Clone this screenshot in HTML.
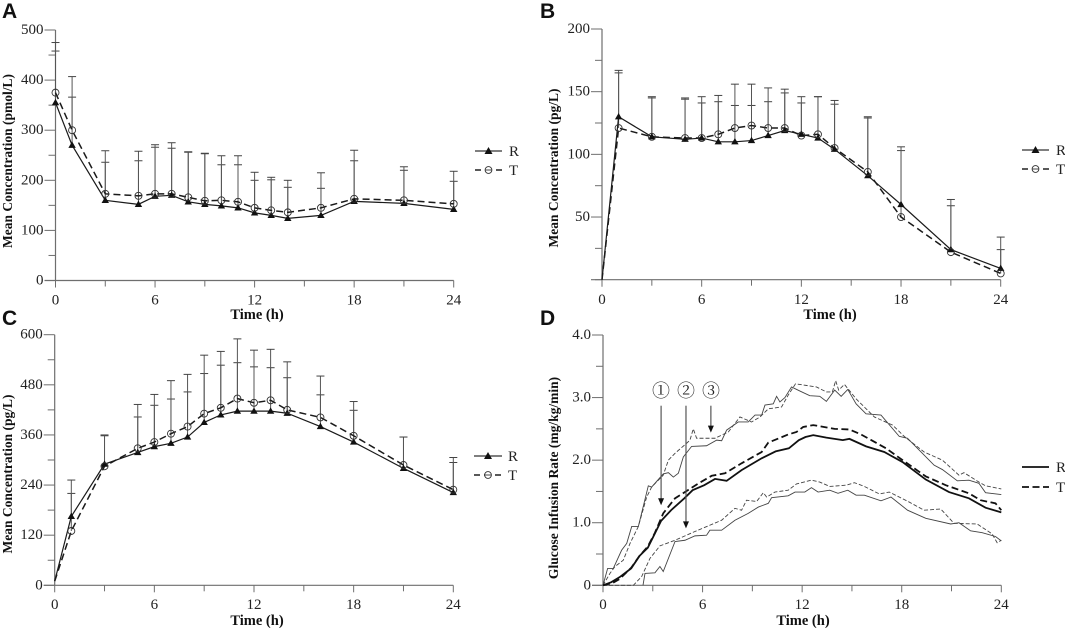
<!DOCTYPE html>
<html lang="en">
<head>
<meta charset="utf-8">
<title>Mean concentration and glucose infusion rate charts</title>
<style>
  html, body { margin: 0; padding: 0; background: #fff; }
  svg { display: block; }
  text { font-family: "Liberation Serif", serif; fill: #222; }
  .letter { font-family: "Liberation Sans", sans-serif; font-weight: 700; font-size: 21px; fill: #111; }
  .title { font-weight: 700; font-size: 14.5px; fill: #111; text-anchor: middle; }
  .y-title { font-weight: 700; font-size: 13.5px; fill: #111; text-anchor: middle; }
  .legend-label { font-size: 15px; }
  .circled { font-family: "Noto Serif CJK SC", "DejaVu Sans", serif; font-size: 18px; text-anchor: middle; }
</style>
</head>
<body>
<svg id="figure" xmlns="http://www.w3.org/2000/svg" width="1065" height="628" viewBox="0 0 1065 628">
  <rect width="1065" height="628" fill="#fff"/>

  <g id="panel-a">
    <text class="letter" x="2" y="18">A</text>
    <text class="y-title" transform="translate(12,161) rotate(-90)">Mean Concentration (pmol/L)</text>
    <text class="title" x="257" y="319">Time (h)</text>
    <g>
      <line x1="475" x2="502" y1="151" y2="151" stroke="#333" stroke-width="1.2"/>
      <polygon points="488.5,147 492.5,154 484.5,154" fill="#111"/>
      <text class="legend-label" x="509" y="156">R</text>
      <line x1="475" x2="502" y1="170" y2="170" stroke="#222" stroke-width="1.5" stroke-dasharray="6 4 7 4 6"/>
      <circle cx="488.5" cy="170" r="3.4" fill="#fff" stroke="#333" stroke-width="0.9"/>
      <line x1="485" x2="492" y1="170" y2="170" stroke="#333" stroke-width="0.9"/>
      <text class="legend-label" x="509" y="175">T</text>
    </g>
  </g>

  <g id="panel-b">
    <text class="letter" x="540" y="18">B</text>
    <text class="y-title" transform="translate(558,168) rotate(-90)">Mean Concentration (pg/L)</text>
    <text class="title" x="830" y="319">Time (h)</text>
    <g>
      <line x1="1022" x2="1049" y1="150" y2="150" stroke="#333" stroke-width="1.2"/>
      <polygon points="1035.5,146 1039.5,153 1031.5,153" fill="#111"/>
      <text class="legend-label" x="1056" y="155">R</text>
      <line x1="1022" x2="1049" y1="169" y2="169" stroke="#222" stroke-width="1.5" stroke-dasharray="6 4 7 4 6"/>
      <circle cx="1035.5" cy="169" r="3.4" fill="#fff" stroke="#333" stroke-width="0.9"/>
      <line x1="1032" x2="1039" y1="169" y2="169" stroke="#333" stroke-width="0.9"/>
      <text class="legend-label" x="1056" y="174">T</text>
    </g>
  </g>

  <g id="panel-c">
    <text class="letter" x="2" y="325">C</text>
    <text class="y-title" transform="translate(12,474) rotate(-90)">Mean Concentration (pg/L)</text>
    <text class="title" x="257" y="625">Time (h)</text>
    <g>
      <line x1="474" x2="502" y1="456" y2="456" stroke="#333" stroke-width="1.2"/>
      <polygon points="488,452 492,459 484,459" fill="#111"/>
      <text class="legend-label" x="508" y="461">R</text>
      <line x1="474" x2="502" y1="475" y2="475" stroke="#222" stroke-width="1.5" stroke-dasharray="6 4 7 4 6"/>
      <circle cx="488" cy="475" r="3.4" fill="#fff" stroke="#333" stroke-width="0.9"/>
      <line x1="484.5" x2="491.5" y1="475" y2="475" stroke="#333" stroke-width="0.9"/>
      <text class="legend-label" x="508" y="480">T</text>
    </g>
  </g>

  <g id="panel-d">
    <text class="letter" x="540" y="325">D</text>
    <text class="y-title" transform="translate(558,478) rotate(-90)">Glucose Infusion Rate (mg/kg/min)</text>
    <text class="title" x="803" y="625">Time (h)</text>
    <text class="circled" x="661" y="397">①</text>
    <text class="circled" x="686" y="397">②</text>
    <text class="circled" x="711" y="397">③</text>
    <g>
      <line x1="1022" x2="1049" y1="467" y2="467" stroke="#111" stroke-width="1.8"/>
      <text class="legend-label" x="1056" y="472">R</text>
      <line x1="1022" x2="1049" y1="487" y2="487" stroke="#111" stroke-width="1.8" stroke-dasharray="7 3.5"/>
      <text class="legend-label" x="1056" y="492">T</text>
    </g>
  </g>
</svg>

<script>
const pkTimes = [0,1,3,5,6,7,8,9,10,11,12,13,14,16,18,21,24];
const xTickValues = [0,6,12,18,24];
const xMinorValues = [3,9,15,21];

const aR = [355,270,160,152,168,170,157,152,149,145,135,130,124,130,158,154,142];
const aT = [375,300,173,169,173,173,166,159,160,157,145,140,136,145,163,160,153];
const aTopR = [458,366,236,239,266,264,256,253,231,231,200,201,186,184,239,220,198];
const aTopT = [475,407,259,258,271,275,257,254,249,249,216,206,200,215,260,227,218];
const aYTicks = [0,100,200,300,400,500];
const aYMinor = [50,150,250,350,450];

const bR = [0,130,114,112,113,110,110,111,115,119,116,113,104,83,60,24,9];
const bT = [0,121,114,113,113,116,121,123,121,121,115,116,105,86,50,22,5];
const bTopR = [null,165,145,144,141,142,139,139,142,149,141,146,140,129,103,59,24];
const bTopT = [null,167,146,145,146,147,156,156,153,152,146,146,143,130,106,64,34];
const bYTicks = [50,100,150,200];
const bYMinor = [0,25,75,125,175];

const cR = [10,165,290,318,332,340,355,390,408,417,417,417,412,380,343,280,222];
const cT = [10,130,285,328,343,363,380,411,425,447,437,443,420,402,358,288,229];
const cTopR = [null,220,358,403,431,446,463,507,527,533,523,521,497,456,419,355,294];
const cTopT = [null,252,360,433,457,490,505,551,560,590,563,565,535,501,440,355,306];
const cYTicks = [0,120,240,360,480,600];
const cYMinor = [60,180,300,420,540];

const dYTicks = [0,1,2,3,4];
const dYTickLabels = ['0','1.0','2.0','3.0','4.0'];
const dYMinor = [0.5,1.5,2.5,3.5];

const dMeanRTimes = [0,0.5,1,1.7,2.2,2.7,3.13,3.5,4.1,4.9,5.4,6.1,6.75,7.45,8.35,9.56,10.4,11.2,11.8,12.2,12.67,13.46,14.45,14.85,15.85,16.95,18.05,18.8,19.45,20.85,22.05,23.05,24];
const dMeanRValues = [0,0.05,0.13,0.27,0.47,0.6,0.83,1.03,1.2,1.39,1.52,1.6,1.7,1.67,1.84,2.03,2.14,2.19,2.32,2.37,2.4,2.36,2.32,2.34,2.22,2.13,1.97,1.82,1.69,1.49,1.39,1.24,1.165];

const dMeanTTimes = [0,0.6,1,1.7,2.2,2.7,3.13,3.63,4.34,4.94,5.7,6.55,7.35,8.35,9.56,9.96,11.16,11.66,12.06,12.67,13.96,14.85,15.55,17.05,18.05,19.45,20.65,22.05,22.75,23.65,24];
const dMeanTValues = [0,0.04,0.1,0.28,0.47,0.62,0.84,1.15,1.39,1.49,1.62,1.75,1.79,1.95,2.13,2.28,2.41,2.45,2.53,2.56,2.5,2.49,2.41,2.19,2,1.74,1.6,1.47,1.36,1.31,1.2];

const dUpperRTimes = [0,0.28,0.62,1.12,1.43,1.73,2.13,2.73,2.93,3.63,3.94,4.24,4.54,4.84,5.34,6.24,6.85,7.15,7.45,8.15,8.75,9.16,9.56,9.76,10.26,10.46,10.66,10.96,11.36,11.9,12.46,13.06,13.46,13.96,14.35,14.75,15.25,15.85,16.75,17.85,18.35,19.95,20.45,21.35,22.05,22.65,23.05,24];
const dUpperRValues = [0,0.27,0.27,0.56,0.67,0.94,0.94,1.59,1.57,1.78,1.8,1.73,1.79,2.05,2.22,2.23,2.32,2.31,2.48,2.61,2.61,2.72,2.72,2.88,2.9,3.02,2.93,3,3.17,3.1,3.03,3.02,2.94,3.12,3.02,3.13,2.9,2.74,2.72,2.38,2.35,1.92,1.85,1.67,1.68,1.63,1.48,1.45];

const dUpperTTimes = [0,0.42,0.72,1.22,1.63,2.13,2.63,2.93,3.63,3.94,4.34,5.04,5.24,5.44,5.64,6.75,7.55,8.25,8.95,9.46,9.96,10.76,11.16,11.6,12.86,13.46,13.82,14.02,14.2,14.55,15.25,16.35,17.45,18.15,19.35,20.45,21.45,21.75,22.65,23.05,24];
const dUpperTValues = [0,0.19,0.3,0.4,0.67,0.94,1.41,1.57,1.76,2,2.11,2.27,2.32,2.5,2.35,2.35,2.45,2.69,2.61,2.69,2.82,2.85,3.04,3.22,3.17,3.09,3.09,3.27,3.12,3.21,2.98,2.69,2.56,2.38,2.13,2,1.76,1.8,1.65,1.59,1.54];

const dLowerRTimes = [2.41,2.53,3.13,3.43,3.63,4.34,4.94,5.54,6.24,6.44,7.15,7.95,8.75,9.36,9.96,10.16,11.16,11.57,12.16,12.56,12.96,13.66,14.16,14.75,15.25,15.75,16.75,17.35,18.35,19.45,20.95,21.45,22.15,22.85,23.65,24];
const dLowerRValues = [0,0.19,0.2,0.3,0.22,0.7,0.72,0.79,0.8,0.88,0.88,1.04,1.15,1.25,1.31,1.4,1.43,1.49,1.49,1.56,1.49,1.52,1.47,1.52,1.44,1.44,1.35,1.41,1.2,1.07,0.98,1,0.87,0.84,0.78,0.71];

const dLowerTTimes = [0,1.83,2.33,2.83,3.43,4.34,5.54,7.15,7.95,8.35,8.65,9.26,9.66,9.86,10.36,11.16,11.66,12.56,13.06,13.66,14.66,15.15,15.75,16.65,17.25,18.45,19.35,20.35,21.15,22.55,23.45,23.75,24];
const dLowerTValues = [0,0,0.14,0.43,0.63,0.72,0.86,1.04,1.23,1.2,1.36,1.34,1.48,1.41,1.49,1.52,1.62,1.68,1.65,1.58,1.6,1.64,1.58,1.46,1.49,1.33,1.2,1.22,0.99,0.98,0.82,0.68,0.72];

const arrowTimes = [3.5,5,6.5];
const arrowTipValues = [1.28,0.91,2.44];
const arrowStartValue = 2.87;

const SVG_NS = 'http://www.w3.org/2000/svg';

function makeEl(tag, name, parent, props) {
  const el = document.createElementNS(SVG_NS, tag);
  
  
  for (const key in props) el.setAttribute(key, props[key]);
  parent.appendChild(el);
  return el;
}

function makeAxes(frame) {
  return {
    x: function (t) { return frame.x0 + (t / 24) * (frame.x24 - frame.x0); },
    y: function (v) { return frame.y0 - (v / frame.yMax) * (frame.y0 - frame.yTop); }
  };
}

function drawAxes(group, prefix, frame, axes, yTicks, yLabels, yMinor, xLabelY) {
  const color = '#6e6e6e';
  const g = makeEl('g', prefix + '-axes', group, {});
  makeEl('line', prefix + '-y-axis-line', g, { x1: frame.x0, x2: frame.x0, y1: frame.yTop, y2: frame.y0, stroke: color, 'stroke-width': 1.2 });
  makeEl('line', prefix + '-x-axis-line', g, { x1: frame.x0 - 11, x2: frame.x24, y1: frame.y0, y2: frame.y0, stroke: color, 'stroke-width': 1.2 });
  yTicks.forEach(function (v, i) {
    makeEl('line', prefix + '-y-tick', g, { x1: frame.x0 - 11, x2: frame.x0, y1: axes.y(v), y2: axes.y(v), stroke: color, 'stroke-width': 1 });
    const label = makeEl('text', prefix + '-y-tick-label', g, { x: frame.x0 - 12, y: axes.y(v) + 4, 'text-anchor': 'end', 'font-size': 15 });
    label.textContent = yLabels[i];
  });
  yMinor.forEach(function (v) {
    makeEl('line', prefix + '-y-minor-tick', g, { x1: frame.x0 - 7, x2: frame.x0, y1: axes.y(v), y2: axes.y(v), stroke: color, 'stroke-width': 1 });
  });
  xTickValues.forEach(function (t) {
    makeEl('line', prefix + '-x-tick', g, { x1: axes.x(t), x2: axes.x(t), y1: frame.y0, y2: frame.y0 + 7, stroke: color, 'stroke-width': 1 });
    const label = makeEl('text', prefix + '-x-tick-label', g, { x: axes.x(t), y: xLabelY, 'text-anchor': 'middle', 'font-size': 15 });
    label.textContent = String(t);
  });
  xMinorValues.forEach(function (t) {
    makeEl('line', prefix + '-x-minor-tick', g, { x1: axes.x(t), x2: axes.x(t), y1: frame.y0, y2: frame.y0 + 6, stroke: color, 'stroke-width': 1 });
  });
}

function pointsOf(axes, times, values) {
  return times.map(function (t, i) { return axes.x(t).toFixed(2) + ',' + axes.y(values[i]).toFixed(2); }).join(' ');
}

function drawErrorBars(group, prefix, axes, times, values, tops) {
  times.forEach(function (t, i) {
    if (tops[i] === null) return;
    const px = axes.x(t);
    makeEl('line', prefix + '-error-stem', group, { x1: px, x2: px, y1: axes.y(values[i]), y2: axes.y(tops[i]), stroke: '#555', 'stroke-width': 1 });
    makeEl('line', prefix + '-error-cap', group, { x1: px - 4, x2: px + 4, y1: axes.y(tops[i]), y2: axes.y(tops[i]), stroke: '#444', 'stroke-width': 1 });
  });
}

function drawPkPanel(id, prefix, frame, rValues, tValues, rTops, tTops, yTicks, yMinor, xLabelY) {
  const group = document.getElementById(id);
  const axes = makeAxes(frame);
  drawAxes(group, prefix, frame, axes, yTicks, yTicks.map(String), yMinor, xLabelY);
  drawErrorBars(group, prefix + '-r', axes, pkTimes, rValues, rTops);
  drawErrorBars(group, prefix + '-t', axes, pkTimes, tValues, tTops);
  makeEl('polyline', prefix + '-series-t-line', group, { points: pointsOf(axes, pkTimes, tValues), fill: 'none', stroke: '#1a1a1a', 'stroke-width': 1.5, 'stroke-dasharray': '7 4' });
  makeEl('polyline', prefix + '-series-r-line', group, { points: pointsOf(axes, pkTimes, rValues), fill: 'none', stroke: '#1a1a1a', 'stroke-width': 1.2 });
  pkTimes.forEach(function (t, i) {
    if (rTops[i] === null) return;
    const px = axes.x(t);
    const rY = axes.y(rValues[i]);
    const tY = axes.y(tValues[i]);
    makeEl('polygon', prefix + '-series-r-point', group, { points: px + ',' + (rY - 3.8) + ' ' + (px + 3.7) + ',' + (rY + 2.6) + ' ' + (px - 3.7) + ',' + (rY + 2.6), fill: '#111' });
    makeEl('circle', prefix + '-series-t-point', group, { cx: px, cy: tY, r: 3.5, fill: 'none', stroke: '#333', 'stroke-width': 0.9 });
  });
}

function drawCurve(group, name, axes, times, values, width, color, dash) {
  const props = { points: pointsOf(axes, times, values), fill: 'none', stroke: color, 'stroke-width': width };
  if (dash) props['stroke-dasharray'] = dash;
  makeEl('polyline', name, group, props);
}

drawPkPanel('panel-a', 'panel-a', { x0: 55.5, x24: 453.7, yTop: 30, y0: 280.5, yMax: 500 }, aR, aT, aTopR, aTopT, aYTicks, aYMinor, 304.5);
drawPkPanel('panel-b', 'panel-b', { x0: 602, x24: 1000.7, yTop: 29, y0: 279.7, yMax: 200 }, bR, bT, bTopR, bTopT, bYTicks, bYMinor, 304);
drawPkPanel('panel-c', 'panel-c', { x0: 54.7, x24: 453.3, yTop: 334.7, y0: 585.3, yMax: 600 }, cR, cT, cTopR, cTopT, cYTicks, cYMinor, 609);

const panelD = document.getElementById('panel-d');
const frameD = { x0: 603, x24: 1001.3, yTop: 335, y0: 585.3, yMax: 4 };
const axesD = makeAxes(frameD);
drawAxes(panelD, 'panel-d', frameD, axesD, dYTicks, dYTickLabels, dYMinor, 609);
drawCurve(panelD, 'panel-d-upper-t-line', axesD, dUpperTTimes, dUpperTValues, 0.9, '#444', '4 2');
drawCurve(panelD, 'panel-d-upper-r-line', axesD, dUpperRTimes, dUpperRValues, 0.9, '#444', null);
drawCurve(panelD, 'panel-d-lower-t-line', axesD, dLowerTTimes, dLowerTValues, 0.9, '#444', '4 2');
drawCurve(panelD, 'panel-d-lower-r-line', axesD, dLowerRTimes, dLowerRValues, 0.9, '#444', null);
drawCurve(panelD, 'panel-d-mean-t-line', axesD, dMeanTTimes, dMeanTValues, 1.8, '#111', '7 3.5');
drawCurve(panelD, 'panel-d-mean-r-line', axesD, dMeanRTimes, dMeanRValues, 1.8, '#111', null);

arrowTimes.forEach(function (t, i) {
  const px = axesD.x(t);
  const tip = axesD.y(arrowTipValues[i]);
  makeEl('line', 'annotation-arrow-shaft', panelD, { x1: px, x2: px, y1: axesD.y(arrowStartValue), y2: tip - 5, stroke: '#555', 'stroke-width': 1.2 });
  makeEl('polygon', 'annotation-arrow-head', panelD, { points: px + ',' + tip + ' ' + (px - 3) + ',' + (tip - 7) + ' ' + (px + 3) + ',' + (tip - 7), fill: '#111' });
});
</script>
</body>
</html>
